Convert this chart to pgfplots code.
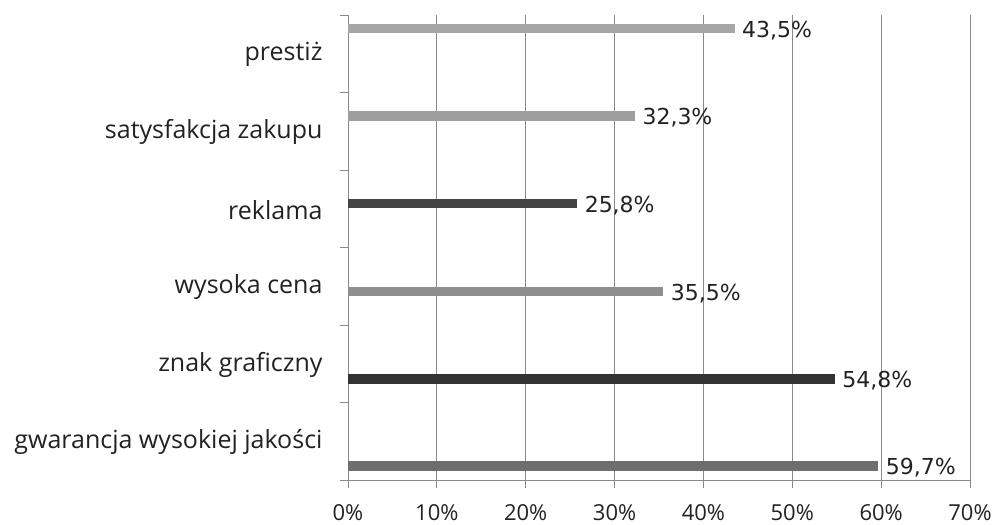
\documentclass[border=0pt]{standalone}
\usepackage{pgfplots}
\pgfplotsset{compat=1.18}
\usepackage{fontspec}
\setmainfont{Open Sans}
\newfontfamily\valfont{DejaVu Sans}

\definecolor{cPre}{HTML}{A6A6A6}
\definecolor{cSat}{HTML}{9E9E9E}
\definecolor{cRek}{HTML}{444444}
\definecolor{cCen}{HTML}{8E8E8E}
\definecolor{cZna}{HTML}{333333}
\definecolor{cGwa}{HTML}{6E6E6E}
\definecolor{gridc}{HTML}{8A8A8A}
\definecolor{txt}{HTML}{222222}

\begin{document}
\begin{tikzpicture}
\path[use as bounding box] (-348bp,-45bp) rectangle (648bp,480bp);
\begin{axis}[
    at={(0,0)}, anchor=south west,
    scale only axis,
    width=622bp, height=465bp,
    xmin=0, xmax=70, ymin=0, ymax=6,
    xbar,
    bar width=9.3bp,
    axis x line*=bottom,
    axis y line*=left,
    axis line style={draw=gridc, line width=0.9bp, -},
    xtick={0,10,...,70},
    xticklabels={0\%,10\%,20\%,30\%,40\%,50\%,60\%,70\%},
    xmajorgrids,
    grid style={draw=gridc, line width=0.8bp},
    ytick={0,1,...,6},
    yticklabels={},
    extra y ticks={0.5,1.5,...,5.5},
    extra y tick labels={gwarancja wysokiej jakości, znak graficzny, wysoka cena , reklama, satysfakcja zakupu, prestiż},
    extra y tick style={major tick length=0pt,
        yticklabel style={xshift=-22bp, yshift=-1bp}},
    tick align=outside,
    major tick length=8bp,
    tick style={draw=gridc, line width=0.9bp},
    tick label style={text=txt},
    yticklabel style={font=\fontsize{25bp}{29bp}\selectfont},
    xticklabel style={font=\fontsize{22bp}{26bp}\selectfont, yshift=-13bp},
    point meta=x,
    nodes near coords={\pgfmathprintnumber[fixed,fixed zerofill,precision=1,use comma,assume math mode=true]{\pgfplotspointmeta}\%},
    nodes near coords align={horizontal},
    every node near coord/.append style={font=\valfont\fontsize{22bp}{26bp}\selectfont, text=txt, xshift=4bp, yshift=-2bp},
]
\addplot[fill=cGwa, draw=none, bar shift=0pt] coordinates {(59.7,0.181)};
\addplot[fill=cZna, draw=none, bar shift=0pt] coordinates {(54.8,1.303)};
\addplot[fill=cCen, draw=none, bar shift=0pt] coordinates {(35.5,2.430)};
\addplot[fill=cRek, draw=none, bar shift=0pt] coordinates {(25.8,3.570)};
\addplot[fill=cSat, draw=none, bar shift=0pt] coordinates {(32.3,4.697)};
\addplot[fill=cPre, draw=none, bar shift=0pt] coordinates {(43.5,5.823)};
\end{axis}
\end{tikzpicture}
\end{document}
